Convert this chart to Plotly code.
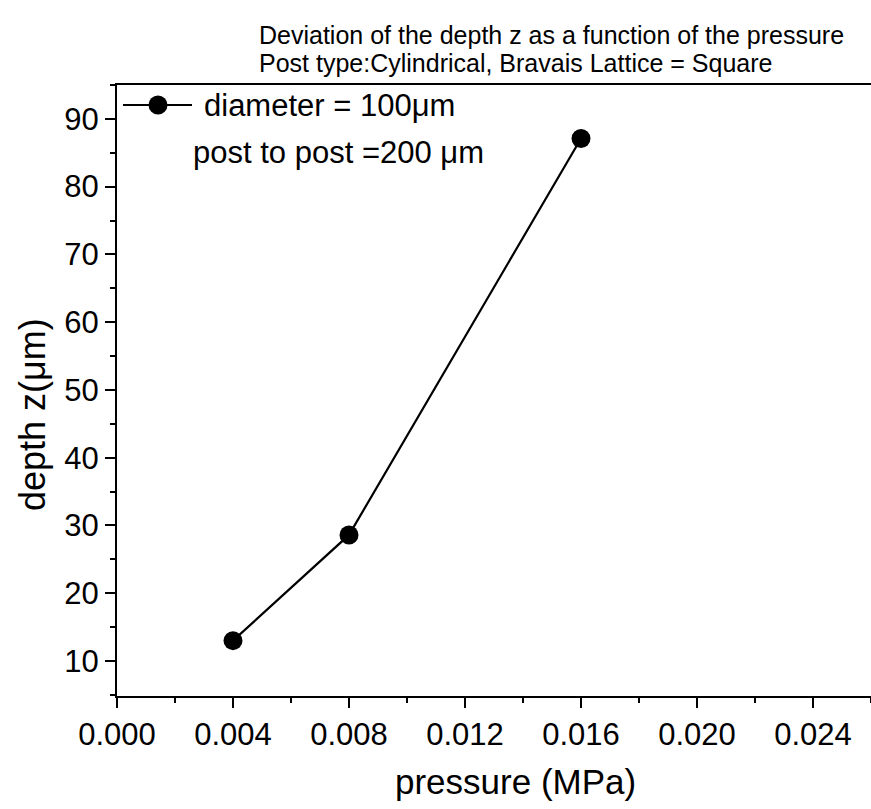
import plotly.graph_objects as go

pressure_mpa = [0.004, 0.008, 0.016]
depth_um = [13.0, 28.6, 87.1]
series_name = "diameter = 100\u03bcm"
spacing_note = "post to post =200 \u03bcm"
title_line1 = "Deviation of the depth z as a function of the pressure"
title_line2 = "Post type:Cylindrical, Bravais Lattice = Square"
x_ticks = [0, 0.004, 0.008, 0.012, 0.016, 0.020, 0.024]
y_ticks = [10, 20, 30, 40, 50, 60, 70, 80, 90]

FONT = "Liberation Sans, Arial, sans-serif"

# plot area geometry in pixels (used for placing paper-referenced items)
L, T, W, H = 117, 85, 754, 611


def px(x):
    return (x - L) / W


def py(y):
    return (T + H - y) / H


fig = go.Figure()
fig.add_trace(go.Scatter(
    x=pressure_mpa, y=depth_um, mode="lines+markers", name=series_name,
    line=dict(color="black", width=2.2),
    marker=dict(symbol="circle", size=19, color="black"),
    showlegend=False,
))

# legend sample: line - dot - line, then the two text lines
shapes = [
    dict(type="line", xref="paper", yref="paper",
         x0=px(123), x1=px(192), y0=py(105), y1=py(105),
         line=dict(color="black", width=2.2)),
    dict(type="circle", xref="paper", yref="paper",
         x0=px(158 - 9.5), x1=px(158 + 9.5), y0=py(105 + 9.5), y1=py(105 - 9.5),
         fillcolor="black", line=dict(color="black", width=0)),
]

annotations = [
    dict(text=series_name, xref="paper", yref="paper", x=px(202), y=py(105),
         xanchor="left", yanchor="middle", showarrow=False,
         font=dict(size=31, family=FONT)),
    dict(text=spacing_note, xref="paper", yref="paper", x=px(191), y=py(152),
         xanchor="left", yanchor="middle", showarrow=False,
         font=dict(size=31, family=FONT)),
    dict(text=title_line1, xref="paper", yref="paper", x=px(257), y=py(35),
         xanchor="left", yanchor="middle", showarrow=False,
         font=dict(size=25, family=FONT)),
    dict(text=title_line2, xref="paper", yref="paper", x=px(257), y=py(63),
         xanchor="left", yanchor="middle", showarrow=False,
         font=dict(size=25, family=FONT)),
    dict(text="pressure (MPa)", xref="paper", yref="paper", x=px(515), y=py(781),
         xanchor="center", yanchor="middle", showarrow=False,
         font=dict(size=35, family=FONT)),
    dict(text="depth z(\u03bcm)", xref="paper", yref="paper", x=px(33), y=py(415),
         xanchor="center", yanchor="middle", showarrow=False, textangle=-90,
         font=dict(size=36, family=FONT)),
]

fig.update_layout(
    width=871, height=809,
    margin=dict(l=L, r=871 - L - W, t=T, b=809 - T - H, pad=0),
    paper_bgcolor="white", plot_bgcolor="white",
    font=dict(family=FONT, color="black"),
    showlegend=False,
    shapes=shapes,
    annotations=annotations,
)

fig.update_xaxes(
    range=[0, 0.026], tickvals=x_ticks, tickformat=".3f",
    showgrid=False, zeroline=False,
    showline=True, mirror=True, linecolor="black", linewidth=2.2,
    ticks="outside", ticklen=10, tickwidth=2, tickcolor="black",
    tickfont=dict(size=31, family=FONT),
    minor=dict(dtick=0.002, tick0=0, ticks="outside", ticklen=5, tickwidth=2,
               tickcolor="black"),
)
fig.update_yaxes(
    range=[4.83, 95.0], tickvals=y_ticks,
    showgrid=False, zeroline=False,
    showline=True, linecolor="black", linewidth=2.2,
    ticks="outside", ticklen=10, tickwidth=2, tickcolor="black",
    tickfont=dict(size=31, family=FONT),
    minor=dict(dtick=5, tick0=0, ticks="outside", ticklen=5, tickwidth=2,
               tickcolor="black"),
)

fig.write_html("out.html")
